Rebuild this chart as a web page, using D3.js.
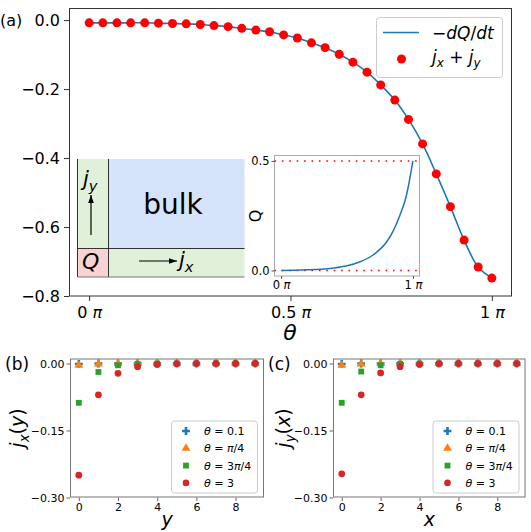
<!DOCTYPE html>
<html>
<head>
<meta charset="utf-8">
<script src="https://cdn.jsdelivr.net/npm/d3@7"></script>
<style>
  body { margin: 0; background: #fff; }
  text { font-family: "DejaVu Sans", sans-serif; fill: #000; }
</style>
</head>
<body>
<svg width="531" height="532"></svg>
<script>
// ---- data (a) : theta in units of pi ----
const thetaPi = [0, 0.034, 0.069, 0.103, 0.138, 0.172, 0.207, 0.241, 0.276, 0.310,
  0.345, 0.379, 0.414, 0.448, 0.483, 0.517, 0.552, 0.586, 0.621, 0.655,
  0.690, 0.724, 0.759, 0.793, 0.828, 0.862, 0.897, 0.931, 0.966, 1];
const jSum = [-0.008, -0.008, -0.008, -0.008, -0.008, -0.009, -0.010, -0.011, -0.013, -0.016,
  -0.019, -0.024, -0.029, -0.034, -0.043, -0.052, -0.066, -0.080, -0.099, -0.122,
  -0.151, -0.188, -0.232, -0.288, -0.359, -0.446, -0.541, -0.638, -0.716, -0.748];
const negDQdt = [-0.008, -0.008, -0.008, -0.008, -0.008, -0.009, -0.010, -0.011, -0.013, -0.016,
  -0.019, -0.024, -0.029, -0.034, -0.043, -0.052, -0.066, -0.080, -0.099, -0.122,
  -0.151, -0.188, -0.232, -0.288, -0.359, -0.446, -0.541, -0.638, -0.716, -0.748];
const aYTicks = [0, -0.2, -0.4, -0.6, -0.8];
const aXTicks = [0, 0.5, 1];

// inset Q(theta)
const qTheta = [0, 0.1, 0.2, 0.3, 0.4, 0.5, 0.6, 0.7, 0.8, 0.85, 0.9, 0.95, 1];
const qVals = [0, 0.001, 0.003, 0.006, 0.012, 0.022, 0.040, 0.072, 0.130, 0.180, 0.250, 0.340, 0.500];
const qYTicks = [0, 0.5];
const qXTicks = [0, 1];

// ---- data (b), (c) ----
const sites = [0, 1, 2, 3, 4, 5, 6, 7, 8, 9];
const bTheta01 = [-0.001, 0, 0, 0, 0, 0, 0, 0, 0, 0];
const bThetaPi4 = [-0.004, -0.001, 0, 0, 0, 0, 0, 0, 0, 0];
const bTheta3Pi4 = [-0.088, -0.019, -0.004, -0.001, 0, 0, 0, 0, 0, 0];
const bTheta3 = [-0.250, -0.070, -0.022, -0.007, -0.002, -0.0005, 0, 0, 0, 0];
const cTheta01 = [-0.001, 0, 0, 0, 0, 0, 0, 0, 0, 0];
const cThetaPi4 = [-0.004, -0.001, 0, 0, 0, 0, 0, 0, 0, 0];
const cTheta3Pi4 = [-0.088, -0.018, -0.004, -0.001, 0, 0, 0, 0, 0, 0];
const cTheta3 = [-0.247, -0.070, -0.021, -0.007, -0.002, -0.0005, 0, 0, 0, 0];
const bcYTicks = [0, -0.15, -0.30];
const bcXTicks = [0, 2, 4, 6, 8];
const seriesLabels = [
  [["θ", "i"], [" = 0.1", "r"]],
  [["θ", "i"], [" = ", "r"], ["π", "i"], ["/4", "r"]],
  [["θ", "i"], [" = 3", "r"], ["π", "i"], ["/4", "r"]],
  [["θ", "i"], [" = 3", "r"]]
];
const seriesColors = ["#1f77b4", "#ff7f0e", "#2ca02c", "#d62728"];
const seriesSymbols = [d3.symbolCross, d3.symbolTriangle, d3.symbolSquare, d3.symbolCircle];

let svg = d3.select("svg");

// text with italic parts and subscripts: style "r", "i", "sr", "si"
function mathText(g, parts, size) {
  let t = g.append("text").attr("font-size", size);
  let shift = 0;
  parts.forEach(([s, st]) => {
    let sp = t.append("tspan").text(s);
    let sub = st.startsWith("s");
    let want = sub ? size * 0.25 : 0;
    if (want !== shift) { sp.attr("dy", want - shift); shift = want; }
    if (st.endsWith("i")) sp.attr("font-style", "italic");
    if (sub) sp.attr("font-size", size * 0.7);
  });
  return t;
}

function cleanAxis(g, color, fs) {
  g.attr("font-family", null).attr("font-size", null);
  g.select(".domain").remove();
  g.selectAll(".tick line").attr("stroke", color);
  g.selectAll(".tick text").attr("font-size", fs).attr("fill", "#000");
}

function piLabels(g) {
  g.selectAll(".tick text").each(function(d) {
    let t = d3.select(this).text(null);
    t.append("tspan").text(d + " ");
    t.append("tspan").attr("font-style", "italic").text("π");
  });
}

// ================= panel (a) =================
let xA = d3.scaleLinear().domain([-0.05, 1.05]).range([69, 512]);
let yA = d3.scaleLinear().domain([-0.8, 0.035]).range([296, 8]);

let gAy = svg.append("g").attr("transform", "translate(69,0)")
  .call(d3.axisLeft(yA).tickValues(aYTicks).tickSize(5).tickPadding(4).tickFormat(d3.format(".1f")));
cleanAxis(gAy, "#333", 16);

let gAx = svg.append("g").attr("transform", "translate(0,296)")
  .call(d3.axisBottom(xA).tickValues(aXTicks).tickSize(5).tickPadding(6));
cleanAxis(gAx, "#333", 16);
piLabels(gAx);

svg.append("text").attr("x", 290).attr("y", 340).attr("text-anchor", "middle")
  .attr("font-size", 22).attr("font-style", "italic").text("θ");
svg.append("text").attr("x", 0).attr("y", 26).attr("font-size", 16).text("(a)");

// inset diagram
let dg = svg.append("g");
dg.append("rect").attr("x", 77.5).attr("y", 159).attr("width", 31).attr("height", 89.5).attr("fill", "#e1f0d8");
dg.append("rect").attr("x", 108.5).attr("y", 159).attr("width", 136).attr("height", 89.5).attr("fill", "#d6e4fb");
dg.append("rect").attr("x", 77.5).attr("y", 248.5).attr("width", 31).attr("height", 28.5).attr("fill", "#f9d3d3");
dg.append("rect").attr("x", 108.5).attr("y", 248.5).attr("width", 136).attr("height", 28.5).attr("fill", "#e1f0d8");
dg.append("line").attr("x1", 77.5).attr("x2", 77.5).attr("y1", 159).attr("y2", 277).attr("stroke", "#333");
dg.append("line").attr("x1", 108.5).attr("x2", 108.5).attr("y1", 159).attr("y2", 277).attr("stroke", "#333");
dg.append("line").attr("x1", 77.5).attr("x2", 244.5).attr("y1", 248.5).attr("y2", 248.5).attr("stroke", "#333");
dg.append("line").attr("x1", 77.5).attr("x2", 244.5).attr("y1", 277).attr("y2", 277).attr("stroke", "#777");
dg.append("text").attr("x", 173).attr("y", 214).attr("text-anchor", "middle").attr("font-size", 28).text("bulk");
mathText(dg, [["j", "i"], ["y", "si"]], 21).attr("x", 83).attr("y", 186);
mathText(dg, [["Q", "i"]], 22).attr("x", 82).attr("y", 269);
mathText(dg, [["j", "i"], ["x", "si"]], 21).attr("x", 179).attr("y", 267);
svg.append("defs").append("marker").attr("id", "arr")
  .attr("viewBox", "0 0 10 10").attr("refX", 10).attr("refY", 5)
  .attr("markerWidth", 7).attr("markerHeight", 7).attr("orient", "auto")
  .append("path").attr("d", "M0,1.5L10,5L0,8.5z").attr("fill", "#000");
dg.append("line").attr("x1", 91).attr("x2", 91).attr("y1", 235).attr("y2", 195)
  .attr("stroke", "#000").attr("stroke-width", 1.2).attr("marker-end", "url(#arr)");
dg.append("line").attr("x1", 139).attr("x2", 177).attr("y1", 261).attr("y2", 261)
  .attr("stroke", "#000").attr("stroke-width", 1.2).attr("marker-end", "url(#arr)");

// inset Q plot
let xQ = d3.scaleLinear().domain([-0.05, 1.05]).range([274.5, 419.5]);
let yQ = d3.scaleLinear().domain([-0.025, 0.525]).range([276, 155.5]);
svg.append("rect").attr("x", 274.5).attr("y", 155.5).attr("width", 145).attr("height", 120.5)
  .attr("fill", "#fff").attr("stroke", "#aaa");
[0, 0.5].forEach(v => {
  svg.append("line").attr("x1", 274.5).attr("x2", 419.5).attr("y1", yQ(v)).attr("y2", yQ(v))
    .attr("stroke", "red").attr("stroke-width", 1.6).attr("stroke-dasharray", "1.6,5.8");
});
svg.append("path").datum(qTheta.map((t, i) => [t, qVals[i]]))
  .attr("fill", "none").attr("stroke", "#1f77b4").attr("stroke-width", 1.5)
  .attr("d", d3.line().x(d => xQ(d[0])).y(d => yQ(d[1])).curve(d3.curveMonotoneX));
let gQy = svg.append("g").attr("transform", "translate(274.5,0)")
  .call(d3.axisLeft(yQ).tickValues(qYTicks).tickSize(3).tickPadding(2).tickFormat(d3.format(".1f")));
cleanAxis(gQy, "#555", 11.5);
let gQx = svg.append("g").attr("transform", "translate(0,276)")
  .call(d3.axisBottom(xQ).tickValues(qXTicks).tickSize(3).tickPadding(2));
cleanAxis(gQx, "#555", 11.5);
piLabels(gQx);
svg.append("text").attr("transform", "translate(261,216) rotate(-90)")
  .attr("text-anchor", "middle").attr("font-size", 16).text("Q");

// main curve and dots
svg.append("path").datum(thetaPi.map((t, i) => [t, negDQdt[i]]))
  .attr("fill", "none").attr("stroke", "#1f77b4").attr("stroke-width", 1.6)
  .attr("d", d3.line().x(d => xA(d[0])).y(d => yA(d[1])).curve(d3.curveCatmullRom));
svg.append("g").selectAll("circle").data(thetaPi).enter().append("circle")
  .attr("cx", d => xA(d)).attr("cy", (d, i) => yA(jSum[i])).attr("r", 4.5).attr("fill", "red");

svg.append("rect").attr("x", 69.5).attr("y", 8.5).attr("width", 442).attr("height", 287.5)
  .attr("fill", "none").attr("stroke", "#333");

// legend (a)
let lg = svg.append("g");
lg.append("rect").attr("x", 376.5).attr("y", 17.5).attr("width", 126).attr("height", 60).attr("rx", 3)
  .attr("fill", "#fff").attr("fill-opacity", 0.8).attr("stroke", "#ccc");
lg.append("line").attr("x1", 383).attr("x2", 419).attr("y1", 32.5).attr("y2", 32.5)
  .attr("stroke", "#1f77b4").attr("stroke-width", 1.6);
lg.append("circle").attr("cx", 401.5).attr("cy", 59).attr("r", 4.5).attr("fill", "red");
mathText(lg, [["−", "r"], ["dQ", "i"], ["/", "r"], ["dt", "i"]], 17).attr("x", 432).attr("y", 38.5);
mathText(lg, [["j", "i"], ["x", "si"], [" + ", "r"], ["j", "i"], ["y", "si"]], 17).attr("x", 432).attr("y", 63);

// ================= panels (b), (c) =================
function smallPanel(opts) {
  let x = d3.scaleLinear().domain([-0.45, 9.45]).range([opts.left, opts.right]);
  let y = d3.scaleLinear().domain([-0.30, 0.0112]).range([opts.bottom, opts.top]);
  let gy = svg.append("g").attr("transform", "translate(" + opts.left + ",0)")
    .call(d3.axisLeft(y).tickValues(bcYTicks).tickSize(3.5).tickPadding(2).tickFormat(d3.format(".2f")));
  cleanAxis(gy, "#666", 11);
  let gx = svg.append("g").attr("transform", "translate(0," + opts.bottom + ")")
    .call(d3.axisBottom(x).tickValues(bcXTicks).tickSize(3.5).tickPadding(2));
  cleanAxis(gx, "#666", 11);

  opts.series.forEach((vals, k) => {
    svg.append("g").selectAll("path").data(sites).enter().append("path")
      .attr("transform", (d, i) => "translate(" + x(d) + "," + y(vals[i]) + ")")
      .attr("d", d3.symbol().type(seriesSymbols[k]).size(k === 3 ? 36 : 34))
      .attr("fill", seriesColors[k]);
  });

  svg.append("rect").attr("x", opts.left + 0.5).attr("y", opts.top + 0.5)
    .attr("width", opts.right - opts.left - 1).attr("height", opts.bottom - opts.top - 1)
    .attr("fill", "none").attr("stroke", "#777");

  // legend
  let lx = opts.right - 93, ly = opts.bottom - 77;
  let l = svg.append("g");
  l.append("rect").attr("x", lx + 0.5).attr("y", ly + 0.5).attr("width", 86).attr("height", 72).attr("rx", 3)
    .attr("fill", "#fff").attr("fill-opacity", 0.8).attr("stroke", "#ccc");
  seriesLabels.forEach((parts, k) => {
    let yy = ly + 10.5 + k * 17.3;
    l.append("path").attr("transform", "translate(" + (lx + 15) + "," + yy + ")")
      .attr("d", d3.symbol().type(seriesSymbols[k]).size(34)).attr("fill", seriesColors[k]);
    mathText(l, parts, 11).attr("x", lx + 33).attr("y", yy + 4);
  });

  svg.append("text").attr("x", opts.tagX).attr("y", opts.top + 11).attr("font-size", 17).text(opts.tag);
  mathText(svg, opts.yLabel, 19)
    .attr("transform", "translate(" + opts.yLabelX + "," + ((opts.top + opts.bottom) / 2) + ") rotate(-90)")
    .attr("text-anchor", "middle");
  svg.append("text").attr("x", (opts.left + opts.right) / 2).attr("y", 526).attr("text-anchor", "middle")
    .attr("font-size", 19).attr("font-style", "italic").text(opts.xLabel);
}

smallPanel({
  left: 70, right: 264, top: 358.5, bottom: 497.5, tag: "(b)", tagX: 5, yLabelX: 24,
  yLabel: [["j", "i"], ["x", "si"], ["(", "r"], ["y", "i"], [")", "r"]], xLabel: "y",
  series: [bTheta01, bThetaPi4, bTheta3Pi4, bTheta3]
});
smallPanel({
  left: 333, right: 525.5, top: 358.5, bottom: 497.5, tag: "(c)", tagX: 268, yLabelX: 290,
  yLabel: [["j", "i"], ["y", "si"], ["(", "r"], ["x", "i"], [")", "r"]], xLabel: "x",
  series: [cTheta01, cThetaPi4, cTheta3Pi4, cTheta3]
});
</script>
</body>
</html>
